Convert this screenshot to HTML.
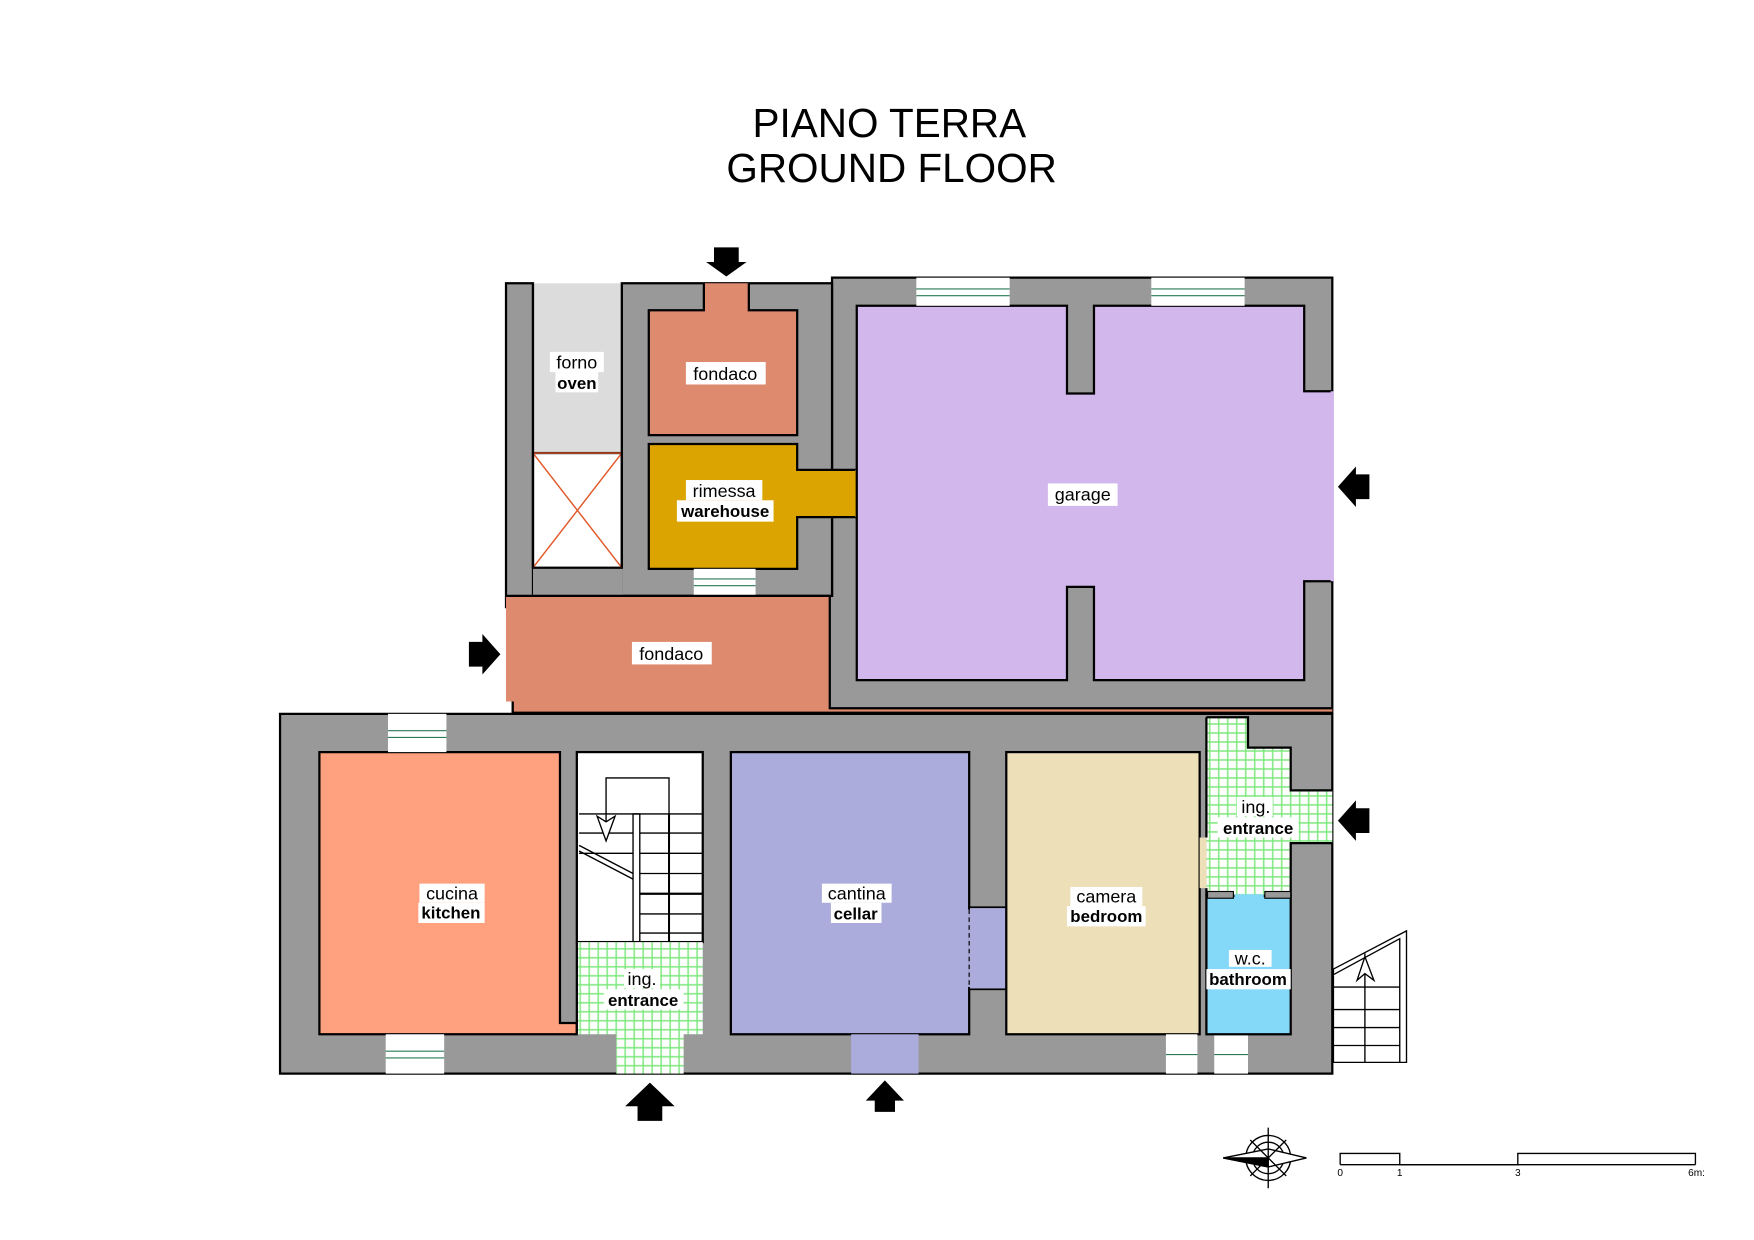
<!DOCTYPE html>
<html><head><meta charset="utf-8"><style>
html,body{margin:0;padding:0;background:#fff;}
svg{display:block;}
text{font-family:"Liberation Sans",sans-serif;}
</style></head><body>
<svg width="1754" height="1240" viewBox="0 0 1560 1103" xmlns="http://www.w3.org/2000/svg">
<defs>
<pattern id="grid" width="8" height="8" patternUnits="userSpaceOnUse">
<rect width="8" height="8" fill="#fff"/>
<path d="M0 4H8M4 0V8" stroke="#7de87d" stroke-width="1.3"/>
</pattern>
</defs>
<rect width="1560" height="1103" fill="#fff"/>
<text x="791" y="122" font-size="36" text-anchor="middle">PIANO TERRA</text>
<text x="793" y="162" font-size="36" text-anchor="middle">GROUND FLOOR</text>

<!-- upper block walls -->
<g stroke="#000" stroke-width="2">
<path d="M450 252H474V530H740V247H1185V634H456V540H450Z" fill="#999"/>
<path d="M553 252H740V530H553Z" fill="#999"/>
</g>
<rect x="474" y="504" width="80" height="27" fill="#999"/>
<!-- forno -->
<rect x="474" y="252" width="79" height="151" fill="#dcdcdc"/>
<rect x="474" y="403" width="79" height="102" fill="#fff" stroke="#000" stroke-width="2"/>
<path d="M474 403H553M474 403L553 505M553 403L474 505" stroke="#e05a2a" stroke-width="1.3" fill="none"/>
<path d="M474 252V505M553 252V505" stroke="#000" stroke-width="2"/>
<!-- fondaco top -->
<path d="M577 276H626V252H666V276H709V387H577Z" fill="#de8a6e"/>
<path d="M626 252V276H577V387H709V276H666V252" fill="none" stroke="#000" stroke-width="2"/>
<!-- rimessa -->
<path d="M577 395H709V418H762V460H709V506H577Z" fill="#dba400" stroke="#000" stroke-width="2"/>
<path d="M762 418V460" stroke="#dba400" stroke-width="3"/>
<!-- window below rimessa -->
<rect x="617" y="506" width="55" height="24" fill="#fff"/>
<path d="M617 515H672M617 521H672" stroke="#2a7a55" stroke-width="1"/>
<!-- fondaco lower -->
<path d="M450 530H738V630H1185V634H456V624H450Z" fill="#de8a6e"/>
<path d="M456 624V634H1185M450 530H738V630H1185" fill="none" stroke="#000" stroke-width="2"/>
<!-- garage -->
<path d="M762 272H949V350H973V272H1160V348H1185V517H1160V605H973V522H949V605H762Z" fill="#d2b7ec" stroke="#000" stroke-width="2"/>
<path d="M1185 348V517" stroke="#d2b7ec" stroke-width="3"/>
<rect x="815" y="247" width="83" height="25" fill="#fff"/>
<rect x="1024" y="247" width="83" height="25" fill="#fff"/>
<path d="M815 257H898M815 263H898M1024 257H1107M1024 263H1107" stroke="#2a7a55" stroke-width="1"/>

<!-- lower block walls -->
<rect x="249" y="635" width="936" height="320" fill="#999" stroke="#000" stroke-width="2"/>
<!-- kitchen -->
<path d="M284 669H498V910H513V920H284Z" fill="#ffa07f" stroke="#000" stroke-width="2"/>
<rect x="345" y="635" width="52" height="34" fill="#fff"/>
<rect x="343" y="920" width="52" height="35" fill="#fff"/>
<path d="M345 650H397M345 656H397M343 935H395M343 941H395" stroke="#2a7a55" stroke-width="1"/>
<!-- stairs -->
<rect x="513" y="669" width="112" height="169" fill="#fff" stroke="#000" stroke-width="2"/>
<g stroke="#000" stroke-width="1.2" fill="none">
<path d="M563 724V838H569V724Z"/>
<path d="M595 724V838" stroke-width="1.8"/>
<path d="M515 724H625M515 741H563M515 759H563M569 741H625M569 759H625M569 777H625M569 795H625M569 813H625M569 830H625"/>
<path d="M569 795H625" stroke-width="2"/>
<path d="M515 752L563 777M515 757L563 782"/>
<path d="M539 736V692H595V724"/>
<path d="M531 726L539 748L547 726L539 731Z" fill="#fff"/>
</g>
<!-- entrance grid -->
<path d="M513 838H625V920H608V955H548V920H513Z" fill="url(#grid)"/>
<path d="M513 838V920" stroke="#000" stroke-width="2"/>
<!-- cellar -->
<rect x="650" y="669" width="212" height="251" fill="#abacdb" stroke="#000" stroke-width="2"/>
<rect x="757" y="920" width="60" height="35" fill="#abacdb"/>
<rect x="862" y="807" width="33" height="73" fill="#abacdb" stroke="#000" stroke-width="1.5"/>
<path d="M862 809V878" stroke="#abacdb" stroke-width="2"/>
<path d="M862 809V878" stroke="#000" stroke-width="1" stroke-dasharray="4 3"/>
<!-- bedroom -->
<rect x="895" y="669" width="172" height="251" fill="#ede0b9" stroke="#000" stroke-width="2"/>
<rect x="1037" y="920" width="28" height="35" fill="#fff"/>
<rect x="1080" y="920" width="30" height="35" fill="#fff"/>
<path d="M1037 938H1065M1080 938H1110" stroke="#2a7a55" stroke-width="1"/>
<!-- right entrance -->
<path d="M1073 638H1110V665H1148V703H1185V750H1148V797H1073Z" fill="url(#grid)"/>
<path d="M1073 638H1110V665H1148V703H1185M1185 750H1148V797M1073 638V745M1073 790V797" fill="none" stroke="#000" stroke-width="2"/>
<rect x="1067" y="745" width="6" height="45" fill="#ede0b9"/>
<!-- bathroom -->
<rect x="1073" y="797" width="75" height="123" fill="#84d8f8" stroke="#000" stroke-width="2"/>
<rect x="1074" y="793" width="23" height="6" fill="#999" stroke="#000" stroke-width="1"/>
<rect x="1125" y="793" width="23" height="6" fill="#999" stroke="#000" stroke-width="1"/>
<path d="M1098 797H1124" stroke="#84d8f8" stroke-width="3"/>
<!-- outer stair -->
<g stroke="#000" stroke-width="1.2" fill="#fff">
<path d="M1186 862L1251 828V945H1186Z"/>
<path d="M1186 867L1245 835V945M1214 848V945M1186 878H1245M1186 898H1245M1186 914H1245M1186 930H1245"/>
<path d="M1207 872L1214 851L1222 872L1214 866Z"/>
</g>

<!-- arrows -->
<g fill="#000">
<path d="M635 220H657V233H664L646 246L628 233H635Z"/>
<path d="M1218 422V444H1206V451L1190 433L1206 415V422Z"/>
<path d="M417 571V593H429V600L445 582L429 564V571Z"/>
<path d="M1218 719V741H1206V748L1190 730L1206 712V719Z"/>
<path d="M567 997H589V984H600L578 963L556 984H567Z"/>
<path d="M778 989H796V979H804L787 961L770 979H778Z"/>
</g>

<!-- labels -->
<g font-size="16" text-anchor="middle">
<rect x="489" y="313" width="48" height="18" fill="#fff"/><text x="513" y="328">forno</text>
<rect x="494" y="331" width="38" height="18" fill="#fff"/><text x="513" y="346" font-weight="bold" font-size="15">oven</text>
<rect x="610" y="322" width="71" height="20" fill="#fff"/><text x="645" y="338">fondaco</text>
<rect x="610" y="427" width="68" height="18" fill="#fff"/><text x="644" y="442">rimessa</text>
<rect x="602" y="445" width="86" height="19" fill="#fff"/><text x="645" y="460" font-weight="bold" font-size="15">warehouse</text>
<rect x="932" y="430" width="62" height="20" fill="#fff"/><text x="963" y="445">garage</text>
<rect x="562" y="571" width="71" height="20" fill="#fff"/><text x="597" y="587">fondaco</text>
<rect x="373" y="786" width="58" height="17" fill="#fff"/><text x="402" y="800">cucina</text>
<rect x="372" y="803" width="59" height="18" fill="#fff"/><text x="401" y="817" font-weight="bold" font-size="15">kitchen</text>
<rect x="731" y="786" width="62" height="17" fill="#fff"/><text x="762" y="800">cantina</text>
<rect x="739" y="803" width="45" height="18" fill="#fff"/><text x="761" y="818" font-weight="bold" font-size="15">cellar</text>
<rect x="952" y="789" width="64" height="17" fill="#fff"/><text x="984" y="803">camera</text>
<rect x="949" y="806" width="70" height="18" fill="#fff"/><text x="984" y="820" font-weight="bold" font-size="15">bedroom</text>
<rect x="555" y="862" width="32" height="17" fill="#fff"/><text x="571" y="876">ing.</text>
<rect x="537" y="880" width="71" height="18" fill="#fff"/><text x="572" y="895" font-weight="bold" font-size="15">entrance</text>
<rect x="1100" y="709" width="32" height="17" fill="#fff"/><text x="1117" y="723">ing.</text>
<rect x="1083" y="727" width="72" height="18" fill="#fff"/><text x="1119" y="742" font-weight="bold" font-size="15">entrance</text>
<rect x="1093" y="845" width="38" height="15" fill="#fff"/><text x="1112" y="858">w.c.</text>
<rect x="1073" y="862" width="75" height="18" fill="#fff"/><text x="1110" y="876" font-weight="bold" font-size="15">bathroom</text>
</g>

<!-- compass -->
<g stroke="#000" stroke-width="1.2" fill="#fff">
<circle cx="1128" cy="1030" r="20"/>
<circle cx="1128" cy="1030" r="14"/>
<path d="M1088 1030L1128 1022L1162 1030L1128 1038Z"/>
<path d="M1088 1030L1128 1030L1128 1038Z" fill="#000"/>
<path d="M1112 1014L1144 1046M1112 1046L1144 1014M1128 1003V1057"/>
</g>
<!-- scale bar -->
<g stroke="#000" stroke-width="1.2" fill="none">
<path d="M1192 1036V1026H1245V1036H1350V1026H1508V1036"/>
<path d="M1192 1036H1508"/>
</g>
<g font-size="9" text-anchor="middle">
<text x="1192" y="1046">0</text><text x="1245" y="1046">1</text><text x="1350" y="1046">3</text><text x="1509" y="1046">6m:</text>
</g>
</svg>
</body></html>
